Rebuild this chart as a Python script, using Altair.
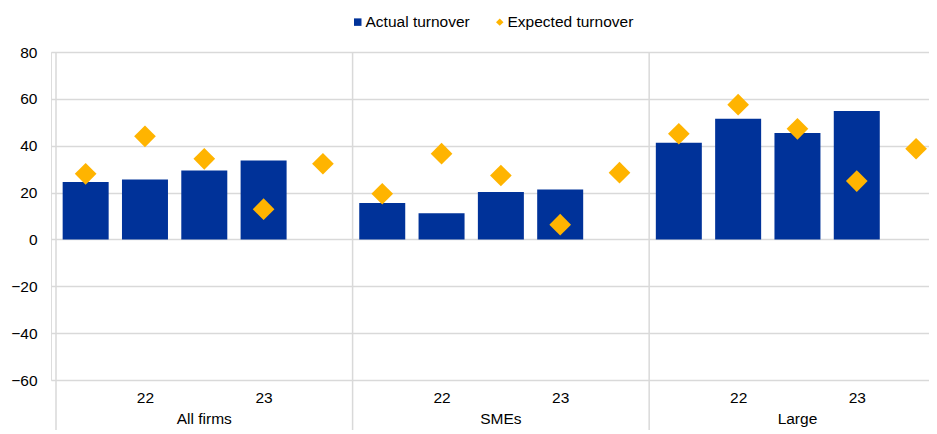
import altair as alt
import pandas as pd

groups = ["All firms", "SMEs", "Large"]
period_labels = ["", "22", "", "23", ""]
actual = [
    [24.5, 25.6, 29.4, 33.7],
    [15.5, 11.2, 20.2, 21.3],
    [41.3, 51.5, 45.4, 54.8],
]
expected = [
    [28.0, 44.0, 34.4, 12.9, 32.3],
    [19.5, 36.6, 27.3, 6.3, 28.5],
    [45.1, 57.5, 47.2, 24.9, 38.7],
]

BLUE = "#003299"
YELLOW = "#FFB400"
GRID = "#d9d9d9"
FONT = "Liberation Sans"
N_SLOTS = len(period_labels)

PLOT_W = 878
PLOT_H = 328
SLOT_PX = 60

bar_rows, pt_rows = [], []
for g, name in enumerate(groups):
    for i, v in enumerate(actual[g]):
        bar_rows.append({"group": name, "slot": g * N_SLOTS + i + 0.5, "value": v,
                         "series": "Actual turnover"})
    for i, v in enumerate(expected[g]):
        pt_rows.append({"group": name, "slot": g * N_SLOTS + i + 0.5, "value": v,
                        "series": "Expected turnover"})
bars_df = pd.DataFrame(bar_rows)
pts_df = pd.DataFrame(pt_rows)
grp_df = pd.DataFrame({"group": groups, "gi": list(range(len(groups)))})

series_domain = ["Actual turnover", "Expected turnover"]
legend_kw = dict(title=None, orient="none", direction="horizontal",
                 legendX=299, legendY=-38, symbolSize=56,
                 labelFontSize=15.5, labelFont=FONT, labelColor="#000",
                 columnPadding=22, labelOffset=0, symbolStrokeWidth=0)
color = alt.Color("series:N", scale=alt.Scale(domain=series_domain, range=[BLUE, YELLOW]),
                  legend=alt.Legend(**legend_kw))
shape = alt.Shape("series:N", scale=alt.Scale(domain=series_domain, range=["square", "diamond"]),
                  legend=alt.Legend(**legend_kw))

tick_values = [g * N_SLOTS + i + 0.5 for g in range(len(groups))
               for i, lab in enumerate(period_labels) if lab]
label_expr = "(datum.value % 5) < 2 ? '22' : '23'"

x = alt.X("slot:Q", scale=alt.Scale(domain=[0, PLOT_W / SLOT_PX], nice=False, zero=False),
          axis=alt.Axis(values=tick_values, labelExpr=label_expr, title=None, grid=False,
                        domain=False, ticks=False, labelPadding=10, labelFontSize=15.5,
                        labelFont=FONT, labelColor="#000"))
y = alt.Y("value:Q", scale=alt.Scale(domain=[-60, 80], nice=False),
          axis=alt.Axis(values=list(range(-60, 81, 20)), title=None, domain=False, ticks=False,
                        labelPadding=14, labelFontSize=15.5, labelFont=FONT, labelColor="#000",
                        gridColor=GRID, gridWidth=1.5))

bars = alt.Chart(bars_df).mark_bar(size=46).encode(x=x, y=y, y2=alt.datum(0), color=color)
points = alt.Chart(pts_df).mark_point(filled=True, size=470, opacity=1).encode(
    x="slot:Q", y="value:Q", color=color, shape=shape)

seps = alt.Chart(grp_df).transform_calculate(b=f"datum.gi * {N_SLOTS}").mark_rule(
    color=GRID, strokeWidth=1.5, clip=False).encode(
    x="b:Q", y=alt.value(0), y2=alt.value(PLOT_H + 50))

glabels = alt.Chart(grp_df).transform_calculate(c=f"datum.gi * {N_SLOTS} + {N_SLOTS / 2}").mark_text(
    font=FONT, fontSize=15.5, color="#000", baseline="middle").encode(
    x="c:Q", y=alt.value(PLOT_H + 39), text="group:N")

chart = alt.layer(seps, bars, points, glabels).properties(
    width=PLOT_W, height=PLOT_H,
    autosize=alt.AutoSizeParams(type="none"),
    padding={"left": 43, "top": 44, "right": 0, "bottom": 50},
).configure_view(stroke=None).configure(background="white")

chart.save("out.html", embed_options={"renderer": "svg", "actions": False})
